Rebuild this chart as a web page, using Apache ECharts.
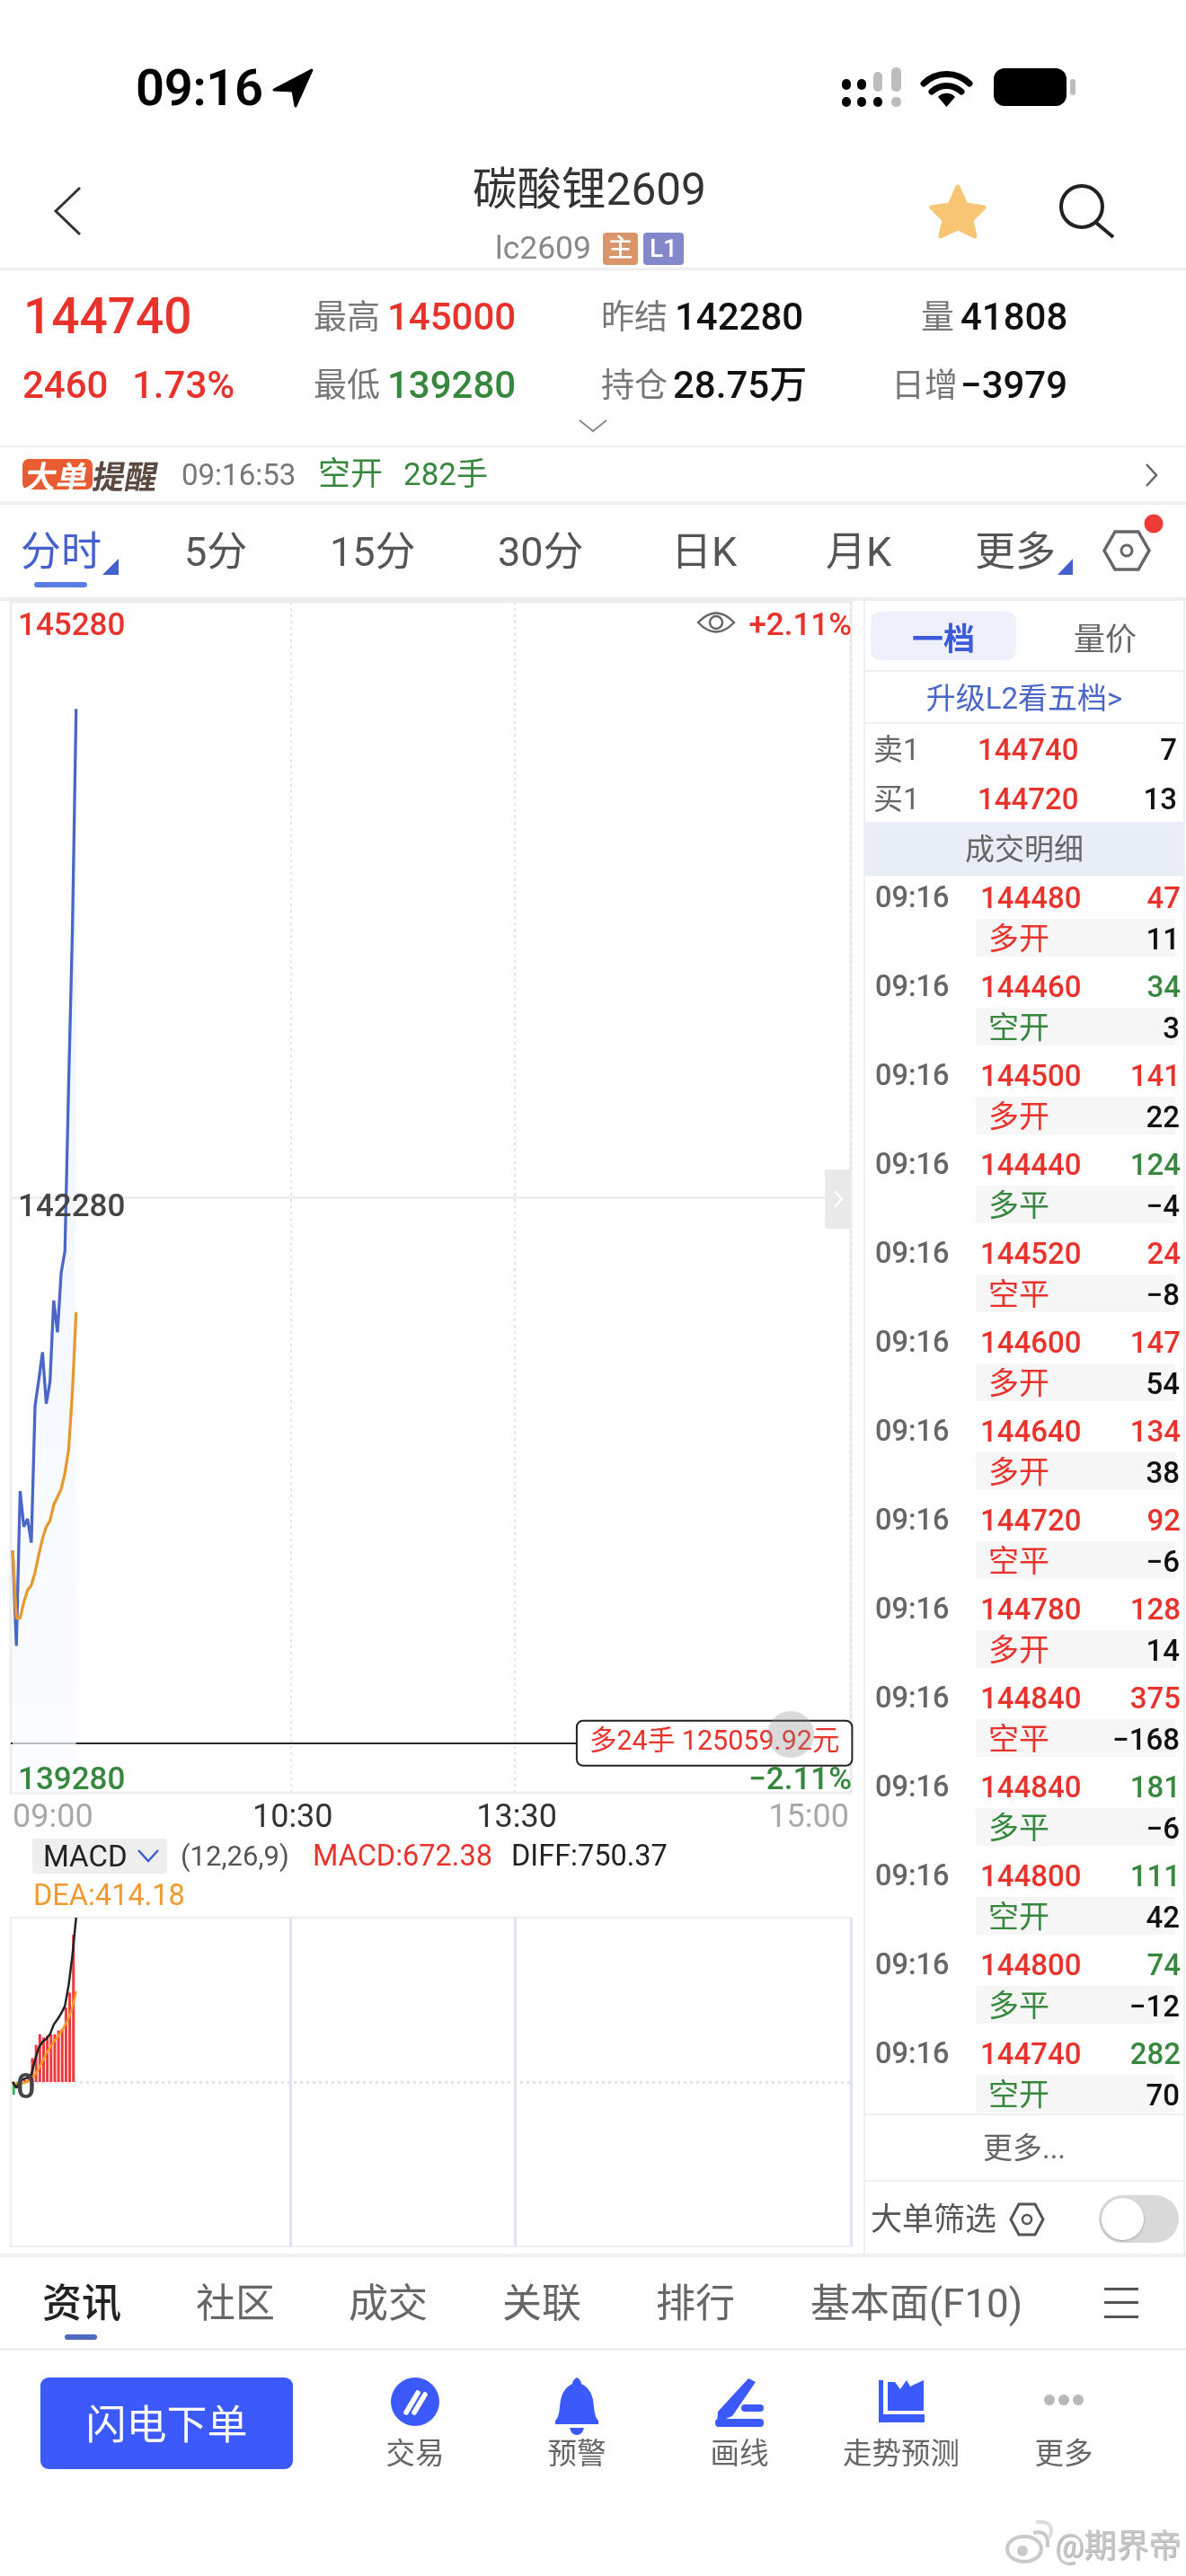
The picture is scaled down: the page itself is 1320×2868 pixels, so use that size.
<!DOCTYPE html>
<html><head><meta charset="utf-8">
<style>
html,body{margin:0;padding:0;background:#fff;width:1320px;height:2868px;overflow:hidden}
#chart{position:absolute;left:0;top:0;width:1320px;height:2868px}
#ui{position:absolute;left:0;top:0;width:1320px;height:2868px;pointer-events:none;font-family:Roboto,"Noto Sans CJK SC",sans-serif}
#ui div,#ui span.t{position:absolute}
.t{white-space:nowrap;line-height:1;font-weight:400}
svg{position:absolute;left:0;top:0;overflow:visible}
</style>
<script src="https://cdn.jsdelivr.net/npm/echarts@6/dist/echarts.min.js"></script>
</head><body>
<div id="chart"></div>
<div id="ui"></div>
<script>
// ---- chart data ----
const prevSettle = 142280, axisTop = 145280, axisBottom = 139280, pctLimit = 2.11;
const positionLevel = 139530; // the position line sits pinned near the bottom of the scale
const positionLabel = '多24手 125059.92元';
const tickLabels = ['09:00','10:30','13:30','15:00'];
const gridTimes = ['10:30','13:30'];
const sessions = [[540,615],[630,690],[810,900]];
const priceLine = [140500,140020,140800,140620,140660,140540,141230,141360,141500,141240,141350,141760,141600,141900,142010,142850,143620,144740];
const avgLine = [140500,140160,140160,140240,140300,140325,140390,140480,140560,140620,140650,140730,140770,140810,140890,141010,141300,141700];
const macdBars = [0,-58,-5,5,10,20,109,170,218,204,211,218,218,235,241,340,408,672.38];
const diffLine = [0,-27,4,14,20,34,102,156,184,197,218,262,286,313,347,442,578,750.37];
const deaLine = [0,-11,-7,-4,1,10,34,61,95,129,156,184,204,231,258,292,340,414.18];
// order book & trades
const bookLabels = ['卖1','买1'], bookPrices = [144740,144720], bookVols = [7,13];
const tradePrices = [144480,144460,144500,144440,144520,144600,144640,144720,144780,144840,144840,144800,144800,144740];
const tradeVols = [47,34,141,124,24,147,134,92,128,375,181,111,74,282];
const tradeUp = [1,0,1,0,1,1,1,1,1,1,0,0,0,0];
const tradeKinds = ['多开','空开','多开','多平','空平','多开','多开','空平','多开','空平','多平','空开','多平','空开'];
const tradeOI = ['11','3','22','−4','−8','54','38','−6','14','−168','−6','42','−12','70'];

const RED='#e8332c', GREEN='#38873f';
const categories=[];
sessions.forEach(s=>{for(let m=s[0];m<s[1];m++){categories.push(String(Math.floor(m/60)).padStart(2,'0')+':'+String(m%60).padStart(2,'0'));}});
categories[categories.length-1]='15:00';

const chart = echarts.init(document.getElementById('chart'),null,{renderer:'canvas'});
const numFont='Roboto';
chart.setOption({
  animation:false,
  backgroundColor:'#fff',
  grid:[
    {left:12,top:670,width:935,height:1326,show:true,borderColor:'#eeeeee',borderWidth:3,backgroundColor:'transparent'},
    {left:12,top:2135,width:935,height:366,show:true,borderColor:'#eeeeee',borderWidth:2,backgroundColor:'transparent'}
  ],
  xAxis:[
    {type:'category',gridIndex:0,data:categories,boundaryGap:true,
     axisLine:{show:false},axisTick:{show:false},
     axisLabel:{show:true,interval:(i)=>tickLabels.includes(categories[i]),alignMinLabel:'left',alignMaxLabel:'right',hideOverlap:false,
       fontFamily:numFont,fontSize:36,margin:11,color:(v)=>(v==='09:00'||v==='15:00')?'#a8a8a8':'#333333'},
     splitLine:{show:true,interval:(i)=>gridTimes.includes(categories[i]),lineStyle:{color:'#dfe3f6',width:2,type:[3,4]}}},
    {type:'category',gridIndex:1,data:categories,boundaryGap:true,
     axisLine:{show:false},axisTick:{show:false},axisLabel:{show:false},
     splitLine:{show:true,interval:(i)=>gridTimes.includes(categories[i]),lineStyle:{color:'#dde2f7',width:3}}}
  ],
  yAxis:[
    {type:'value',gridIndex:0,min:axisBottom,max:axisTop,z:6,scale:true,
     axisLine:{show:false},axisTick:{show:false},splitLine:{show:false},
     axisLabel:{show:true,inside:true,customValues:[axisBottom,prevSettle,axisTop],margin:8,fontFamily:numFont,fontWeight:500,fontSize:35,
       lineHeight:25,padding:[16,0,0,0],
       formatter:(v)=>v===prevSettle?'{mid|'+v+'}':String(v),
       rich:{mid:{fontFamily:numFont,fontWeight:500,fontSize:35,lineHeight:25,color:'#444444',padding:[8,0,0,0]}},
       verticalAlignMinLabel:'bottom',verticalAlignMaxLabel:'top',
       color:(v)=>v>prevSettle?RED:(v<prevSettle?GREEN:'#444444')}},
    {type:'value',gridIndex:0,position:'right',min:-pctLimit,max:pctLimit,z:6,
     axisLine:{show:false},axisTick:{show:false},splitLine:{show:false},
     axisLabel:{show:true,inside:true,customValues:[-pctLimit,pctLimit],margin:-1,fontFamily:numFont,fontWeight:500,fontSize:35,
       lineHeight:25,padding:[16,0,0,0],
       verticalAlignMinLabel:'bottom',verticalAlignMaxLabel:'top',
       formatter:(v)=>(v>0?'+':'−')+Math.abs(v).toFixed(2)+'%',
       color:(v)=>v>0?RED:GREEN}},
    {type:'value',gridIndex:1,min:-750.37,max:750.37,z:6,
     axisLine:{show:false},axisTick:{show:false},splitLine:{show:false},
     axisLabel:{show:true,inside:true,customValues:[0],margin:6,fontFamily:numFont,fontWeight:500,fontSize:38,color:'#444444',
       formatter:()=>'{zero|0}',rich:{zero:{fontFamily:numFont,fontWeight:500,fontSize:38,color:'#444444',padding:[16,0,0,0]}}}}
  ],
  series:[
    {name:'价格',type:'line',xAxisIndex:0,yAxisIndex:0,data:priceLine,symbol:'none',smooth:false,z:3,
     lineStyle:{color:'#4a66c6',width:3.3},
     areaStyle:{origin:'start',color:new echarts.graphic.LinearGradient(0,0,0,1,[{offset:0,color:'#e6effd'},{offset:1,color:'#f9fbff'}])},
     markLine:{silent:true,symbol:'none',label:{show:false},animation:false,z:2,
       data:[{yAxis:prevSettle,lineStyle:{color:'#eeeeee',width:3,type:'solid'}},
             {yAxis:positionLevel,lineStyle:{color:'#2a2a2a',width:2,type:'solid'}}]},
     markPoint:{silent:true,symbol:'circle',symbolSize:1,itemStyle:{color:'transparent'},z:8,
       data:[{coord:['15:00',positionLevel],
         label:{show:true,position:'left',distance:-3,formatter:positionLabel,color:RED,fontFamily:'Roboto,"Noto Sans CJK SC"',fontSize:30.5,lineHeight:30,
           backgroundColor:'#fff',borderColor:'#222',borderWidth:2,borderRadius:6,padding:[9,13,9,13]}}]}
    },
    {name:'均价',type:'line',xAxisIndex:0,yAxisIndex:0,data:avgLine,symbol:'none',z:4,lineStyle:{color:'#e59a30',width:3.3}},
    {name:'MACD',type:'bar',xAxisIndex:1,yAxisIndex:2,data:macdBars,barWidth:3,barGap:'100%',z:2,
     itemStyle:{color:(p)=>p.value>=0?'#ee3a3f':'#3fb35c'}},
    {name:'间隔',type:'bar',xAxisIndex:1,yAxisIndex:2,data:[],barWidth:3,z:1},
    {name:'DIFF',type:'line',xAxisIndex:1,yAxisIndex:2,data:diffLine,symbol:'none',z:4,lineStyle:{color:'#222222',width:2.5},
     markLine:{silent:true,symbol:'none',label:{show:false},z:1,data:[{yAxis:0,lineStyle:{color:'#e4e4e4',width:3,type:[3,4]}}]}},
    {name:'DEA',type:'line',xAxisIndex:1,yAxisIndex:2,data:deaLine,symbol:'none',z:3,lineStyle:{color:'#f59a23',width:2.5}}
  ]
});

// ---- surrounding app chrome (text stays real text) ----
const ui=document.getElementById('ui');
const CJK='"Noto Sans CJK SC",Roboto,sans-serif';
function T(x,y,s,size,color,o){o=o||{};const e=document.createElement('span');e.className='t';e.textContent=s;
  let tx=o.a==='c'?'-50%':(o.a==='r'?'-100%':'0');
  e.style.cssText=`left:${x}px;top:${y}px;transform:translate(${tx},-50%) ${o.skew?'skewX(-10deg)':''};font-size:${size}px;color:${color};font-weight:${o.w||400};font-family:${o.f||'Roboto,"Noto Sans CJK SC",sans-serif'};`;
  if(o.ls)e.style.letterSpacing=o.ls+'px';
  ui.appendChild(e);return e;}
function R(x,y,w,h,c,r){const e=document.createElement('div');e.style.cssText=`left:${x}px;top:${y}px;width:${w}px;height:${h}px;background:${c};border-radius:${r||0}px`;ui.appendChild(e);return e;}
function S(inner){const e=document.createElementNS('http://www.w3.org/2000/svg','svg');e.setAttribute('width',1320);e.setAttribute('height',2868);e.innerHTML=inner;ui.appendChild(e);}

// status bar
T(151,98,'09:16',56,'#000',{w:600,ls:-0.3});
S(`<path d="M347 78 L305 100 L326 101 L329 118 Z" fill="#000" stroke="#000" stroke-width="3" stroke-linejoin="round"/>`);
[[937,88,10,12],[954,88,10,12],[937,108,10,11],[954,108,10,11],[972,108,10,11]].forEach(b=>R(b[0],b[1],b[2],b[3],'#000',5));
R(972,80,10,22,'#bdbdbd',5);R(992,75,11,27,'#bdbdbd',5);R(992,108,11,11,'#bdbdbd',5);
S(`<path d="M1028 93 A36 36 0 0 1 1079 93 M1037 102 A24 24 0 0 1 1070 102" fill="none" stroke="#000" stroke-width="7" stroke-linecap="round"/><path d="M1044 108 A13 13 0 0 1 1063 108 L1053.5 119 Z" fill="#000"/>`);
R(1106,76,81,42,'#000',12);R(1191,88,6,18,'#bdbdbd',3);

// nav bar
S(`<path d="M89 209 L62 235 L89 261" fill="none" stroke="#333" stroke-width="3"/>`);
T(656,212,'碳酸锂2609',49.5,'#333',{a:'c'});
T(551,277,'lc2609',35.5,'#888');
R(671,259,39,36,'#d9946a',4);T(690.5,277,'主',28,'#fff',{a:'c',w:500});
R(716,259,45,36,'#8288c9',4);T(738.5,277,'L1',28,'#fff',{a:'c',w:500});
S(`<path d="M1066 208 L1075 228 L1095 231 L1081 245 L1085 263 L1066 254 L1047 263 L1051 245 L1037 231 L1057 228 Z" fill="#f7c574" stroke="#f7c574" stroke-width="5" stroke-linejoin="round"/>
<circle cx="1204" cy="230" r="23" fill="none" stroke="#222" stroke-width="4"/><path d="M1220 248 L1239 264" stroke="#222" stroke-width="4"/>`);
R(0,298,1320,3,'#eeeeee');

// quote header
T(26,352,'144740',55,RED,{w:500});
T(349,353,'最高',37,'#777');T(431,353,'145000',42,RED,{w:500});
T(669,353,'昨结',37,'#777');T(751,353,'142280',42,'#111',{w:500});
T(1025,353,'量',37,'#777');T(1069,353,'41808',42,'#111',{w:500});
T(25,429,'2460',42,RED,{w:500});T(147,429,'1.73%',42,RED,{w:500});
T(349,429,'最低',37,'#777');T(431,429,'139280',42,GREEN,{w:500});
T(669,429,'持仓',37,'#777');T(749,429,'28.75万',42,'#111',{w:500});
T(992,429,'日增',37,'#777');T(1069,429,'−3979',42,'#111',{w:500});
S(`<path d="M645 468 L660 480 L675 468" fill="none" stroke="#888" stroke-width="2"/>`);
R(0,496,1320,2,'#eeeeee');

// alert strip
R(25,511,78,34,'#e95b31',7);T(64,528,'大单',35,'#fff',{a:'c',w:700,skew:1,f:CJK});
T(104,528,'提醒',36,'#5a4a42',{w:700,skew:1,f:CJK});
T(202,528,'09:16:53',33,'#777');
T(354,528,'空开',36,GREEN);T(449,528,'282手',35,GREEN);
S(`<path d="M1276 517 L1287 529 L1276 541" fill="none" stroke="#666" stroke-width="2.5"/>`);
R(0,558,1320,4,'#eeeeee');

// period tabs
T(23,614,'分时',45,'#4460cf',{});R(38,648,59,6,'#5a7de8',3);
S(`<path d="M132 622 L132 640 L114 640 Z" fill="#4460cf"/><path d="M1194 622 L1194 640 L1177 640 Z" fill="#4460cf"/>`);
[[205,'5分'],[367,'15分'],[554,'30分'],[747,'日K'],[919,'月K'],[1085,'更多']].forEach(p=>T(p[0],614,p[1],45,'#555'));
S(`<path d="M1241 592 L1267 592 L1279 613 L1267 634 L1241 634 L1229 613 Z" fill="none" stroke="#666" stroke-width="3.5"/><circle cx="1254" cy="613" r="6" fill="none" stroke="#666" stroke-width="3"/><circle cx="1284" cy="583" r="10.5" fill="#ee3b36"/>`);
R(0,665,1320,4,'#eeeeee');

// eye, side handle, floating circle
S(`<path d="M777 693 Q797 672 817 693 Q797 714 777 693 Z" fill="none" stroke="#666" stroke-width="2.5"/><circle cx="797" cy="693" r="7" fill="none" stroke="#666" stroke-width="2.5"/>`);
R(918,1302,29,66,'#e9e9e9',2);
S(`<path d="M929 1326 L937 1335 L929 1344" fill="none" stroke="#fff" stroke-width="2.5"/>`);
S(`<circle cx="880" cy="1931" r="26" fill="#8c8c8c" fill-opacity="0.32"/>`);

// MACD legend
R(36,2047,150,39,'#eeeeee',3);
T(48,2066,'MACD',33,'#222');
S(`<path d="M154 2060 L165 2072 L176 2060" fill="none" stroke="#3f5bc9" stroke-width="2.5"/>`);
T(201,2066,'(12,26,9)',31,'#555');
T(348,2066,'MACD:672.38',32.5,RED);
T(569,2066,'DIFF:750.37',32.5,'#222');
T(37,2110,'DEA:414.18',32.5,'#f09a2e');

// right panel
R(961,668,2,1842,'#efefef');R(1317,668,2,1842,'#efefef');
R(969,681,162,54,'#eef1fc',10);
T(1050,708,'一档',35,'#3d5ad8',{a:'c',w:700,f:CJK});
T(1230,708,'量价',35,'#666',{a:'c',f:CJK});
R(963,746,354,2,'#eeeeee');
T(1140,777,'升级L2看五档>',33,'#4a66c8',{a:'c'});
R(963,804,354,2,'#eeeeee');
bookLabels.forEach((l,i)=>{const y=834+55*i;
  T(972,y,l,33,'#666');T(1088,y,String(bookPrices[i]),33,RED,{w:500});T(1310,y,String(bookVols[i]),33,'#111',{a:'r',w:500});});
R(963,915,354,60,'#e9edf6');
T(1140,945,'成交明细',33,'#666',{a:'c'});
tradePrices.forEach((p,i)=>{const y=999+99*i,c=tradeUp[i]?RED:GREEN;
  const kindColor=(tradeKinds[i]==='空开'||tradeKinds[i]==='多平')?GREEN:RED;
  R(1086,y+24,222,42,'#f6f6f6');
  T(974,y,'09:16',32.5,'#666',{w:500});
  T(1091,y,String(p),33,RED,{w:500});
  T(1314,y,String(tradeVols[i]),33,c,{a:'r',w:500});
  T(1100,y+46,tradeKinds[i],34,kindColor);
  T(1313,y+46,tradeOI[i],33,'#111',{a:'r',w:500});
});
R(963,2353,354,2,'#eeeeee');
T(1140,2391,'更多...',33,'#666',{a:'c'});
R(963,2427,354,2,'#eeeeee');
T(969,2471,'大单筛选',35,'#555');
S(`<path d="M1134 2454 L1152 2454 L1161 2471 L1152 2488 L1134 2488 L1125 2471 Z" fill="none" stroke="#555" stroke-width="3"/><circle cx="1143" cy="2471" r="5" fill="none" stroke="#555" stroke-width="2.5"/>`);
R(1223,2444,89,53,'#d9d9d9',27);
const knob=R(1226,2447,47,47,'#fff',24);knob.style.boxShadow='0 1px 3px rgba(0,0,0,.25)';

// lower tabs
R(0,2509,1320,4,'#eeeeee');
T(47,2565,'资讯',44,'#222',{w:500});R(72,2599,36,6,'#4f68c0',3);
[[218,'社区'],[388,'成交'],[559,'关联'],[730,'排行'],[902,'基本面(F10)']].forEach(p=>T(p[0],2565,p[1],44,'#666'));
[2547,2562,2578].forEach(y=>R(1229,y,38,3,'#555'));
R(0,2614,1320,3,'#eeeeee');

// bottom action bar
R(45,2647,281,102,'#3c5afc',9);
T(185.5,2700,'闪电下单',45,'#fff',{a:'c'});
[[462,'交易'],[642,'预警'],[823,'画线'],[1003,'走势预测'],[1184,'更多']].forEach(p=>T(p[0],2732,p[1],32.5,'#666',{a:'c'}));
S(`<circle cx="462" cy="2674" r="27" fill="#3c5afc"/>
<path d="M452 2686 L465 2664 M461 2686 L473 2666" stroke="#fff" stroke-width="5.5" stroke-linecap="round" fill="none"/>
<path d="M642 2647 Q647 2650 647 2654 Q660 2660 661 2680 Q662 2692 666 2695 L666 2699 L618 2699 L618 2695 Q622 2692 623 2680 Q624 2660 637 2654 Q637 2650 642 2647 Z" fill="#3c5afc"/><path d="M634 2703 L650 2703 Q648 2711 642 2711 Q636 2711 634 2703 Z" fill="#3c5afc"/>
<path d="M833 2648 L841 2652 L815 2690 L798 2697 L799 2685 Z" fill="#3c5afc"/><rect x="825" y="2677" width="25" height="8" rx="4" fill="#3c5afc"/><rect x="796" y="2693" width="54" height="9" rx="4" fill="#3c5afc"/>
<path d="M978 2650 L983 2650 L983 2688 L1029 2688 L1029 2697 L978 2697 Z" fill="#3c5afc"/><path d="M988 2652 L996 2652 L1002 2660 L1009 2650 L1013 2657 L1028 2650 L1028 2684 L988 2684 Z" fill="#3c5afc"/>
<circle cx="1168" cy="2672" r="6" fill="#b8b8b8"/><circle cx="1184" cy="2672" r="6" fill="#b8b8b8"/><circle cx="1200" cy="2672" r="6" fill="#b8b8b8"/>`);

// watermark
S(`<g fill="none" stroke="#c9c9c9" stroke-width="4"><ellipse cx="1140" cy="2838" rx="19" ry="14"/><path d="M1150 2820 Q1168 2816 1166 2836"/><path d="M1153 2808 Q1176 2806 1168 2826" stroke="#dcdcdc"/></g><circle cx="1138" cy="2840" r="6" fill="#c9c9c9"/>`);
const wm=T(1174,2835,'@期界帝',36,'#c8c8c8',{});wm.style.textShadow='1px 1px 1px #aaa';
</script>
</body></html>
